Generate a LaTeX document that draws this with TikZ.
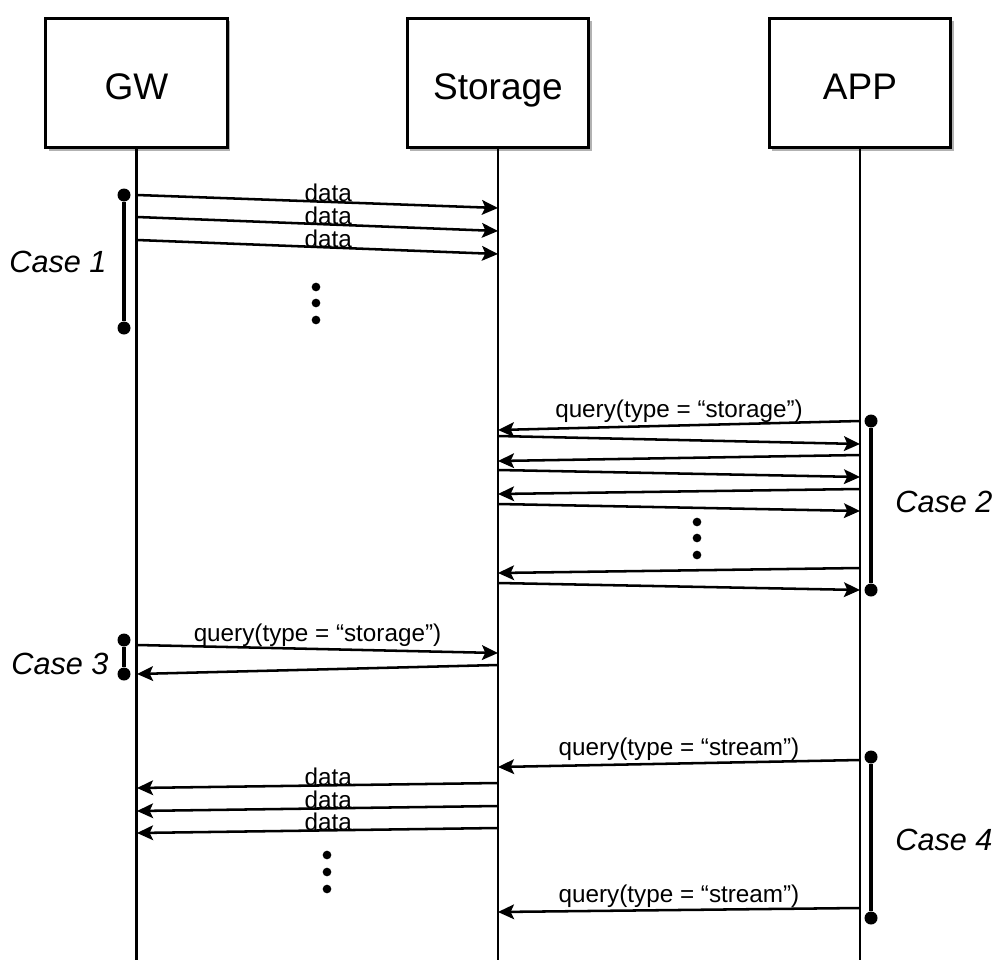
\documentclass[tikz,border=0pt]{standalone}
\usepackage{fontspec}
\setmainfont{Liberation Sans}
\usetikzlibrary{arrows.meta,shadows}
\begin{document}
\begin{tikzpicture}[x=0.75pt,y=-0.75pt,
  actor/.style={draw,line width=2.4pt,fill=white,minimum width=136pt,minimum height=97pt,
    inner sep=0pt,text height=24.8pt,text depth=0pt,font=\fontsize{27.75}{30}\selectfont,
    drop shadow={shadow xshift=2.2pt,shadow yshift=-2.2pt,fill=black!30,opacity=1}},
  life/.style={line width=1.8pt},
  msg/.style={line width=1.9pt,-{Stealth[length=12pt,width=11pt,inset=2.5pt]}},
  lbl/.style={font=\fontsize{18.2}{20}\selectfont,inner sep=0pt},
  caselbl/.style={font=\fontsize{23}{26}\selectfont\itshape,inner sep=0pt},
  brk/.style={line width=2.3pt},
  bdot/.style={circle,fill=black,inner sep=0pt,minimum size=9.75pt},
  edot/.style={circle,fill=black,inner sep=0pt,minimum size=6.5pt}
]
\useasboundingbox (0,0) rectangle (997,960);
% actors
\node[actor] (gw) at (136.5,83) {GW};
\node[actor] (st) at (498,83) {Storage};
\node[actor] (app) at (860,83) {APP};
% lifeline ends
\coordinate (gwE) at (136.5,960);
\coordinate (stE) at (498,960);
\coordinate (appE) at (860,960);
\draw[life] (gw.south) -- (gwE);
\draw[life] (st.south) -- (stE);
\draw[life] (app.south) -- (appE);

% ---------- Case 1 ----------
\coordinate (a1s) at (137,195); \coordinate (a1e) at (498,208);
\coordinate (a2s) at (137,217); \coordinate (a2e) at (498,231);
\coordinate (a3s) at (137,240); \coordinate (a3e) at (498,254);
\draw[msg] (a1s) -- (a1e) node[lbl,pos=0.53,above=-1pt] (l1) {data};
\draw[msg] (a2s) -- (a2e) node[lbl,pos=0.53,above=-1pt] (l2) {data};
\draw[msg] (a3s) -- (a3e) node[lbl,pos=0.53,above=-1pt] (l3) {data};
\node[edot] (c1d1) at (316,287) {};
\node[edot] (c1d2) at (316,303) {};
\node[edot] (c1d3) at (316,320) {};
\node[bdot] (c1t) at (124,195) {};
\node[bdot] (c1b) at (124,328) {};
\draw[brk] (c1t) -- (c1b);
\node[caselbl] (case1) at (58,262) {Case 1};

% ---------- Case 2 ----------
\coordinate (b1s) at (860,421); \coordinate (b1e) at (498,430);
\coordinate (b2s) at (498,436); \coordinate (b2e) at (860,444);
\coordinate (b3s) at (860,455); \coordinate (b3e) at (498,461);
\coordinate (b4s) at (498,470); \coordinate (b4e) at (860,477);
\coordinate (b5s) at (860,489); \coordinate (b5e) at (498,494);
\coordinate (b6s) at (498,504); \coordinate (b6e) at (860,511);
\coordinate (b7s) at (860,568); \coordinate (b7e) at (498,573);
\coordinate (b8s) at (498,583); \coordinate (b8e) at (860,590);
\draw[msg] (b1s) -- (b1e) node[lbl,midway,above=1pt] (q1) {query(type = “storage”)};
\draw[msg] (b2s) -- (b2e);
\draw[msg] (b3s) -- (b3e);
\draw[msg] (b4s) -- (b4e);
\draw[msg] (b5s) -- (b5e);
\draw[msg] (b6s) -- (b6e);
\draw[msg] (b7s) -- (b7e);
\draw[msg] (b8s) -- (b8e);
\node[edot] (c2d1) at (697,522) {};
\node[edot] (c2d2) at (697,538) {};
\node[edot] (c2d3) at (697,555) {};
\node[bdot] (c2t) at (871,421) {};
\node[bdot] (c2b) at (871,590) {};
\draw[brk] (c2t) -- (c2b);
\node[caselbl] (case2) at (944,502) {Case 2};

% ---------- Case 3 ----------
\coordinate (d1s) at (137,645); \coordinate (d1e) at (498,653);
\coordinate (d2s) at (498,665); \coordinate (d2e) at (137,674);
\draw[msg] (d1s) -- (d1e) node[lbl,midway,above=1pt] (q3) {query(type = “storage”)};
\draw[msg] (d2s) -- (d2e);
\node[bdot] (c3t) at (124,640) {};
\node[bdot] (c3b) at (124,674) {};
\draw[brk] (c3t) -- (c3b);
\node[caselbl] (case3) at (60,664) {Case 3};

% ---------- Case 4 ----------
\coordinate (e1s) at (860,760); \coordinate (e1e) at (498,767);
\coordinate (e2s) at (498,783); \coordinate (e2e) at (137,788);
\coordinate (e3s) at (498,806); \coordinate (e3e) at (137,811);
\coordinate (e4s) at (498,828); \coordinate (e4e) at (137,833);
\coordinate (e5s) at (860,908); \coordinate (e5e) at (498,912);
\draw[msg] (e1s) -- (e1e) node[lbl,midway,above=1pt] (q4a) {query(type = “stream”)};
\draw[msg] (e2s) -- (e2e) node[lbl,pos=0.47,above=-1pt] (l4) {data};
\draw[msg] (e3s) -- (e3e) node[lbl,pos=0.47,above=-1pt] (l5) {data};
\draw[msg] (e4s) -- (e4e) node[lbl,pos=0.47,above=-1pt] (l6) {data};
\draw[msg] (e5s) -- (e5e) node[lbl,midway,above=1pt] (q4b) {query(type = “stream”)};
\node[edot] (c4d1) at (327,855) {};
\node[edot] (c4d2) at (327,872) {};
\node[edot] (c4d3) at (327,889) {};
\node[bdot] (c4t) at (871,757) {};
\node[bdot] (c4b) at (871,918) {};
\draw[brk] (c4t) -- (c4b);
\node[caselbl] (case4) at (944,840) {Case 4};
\end{tikzpicture}
\end{document}
